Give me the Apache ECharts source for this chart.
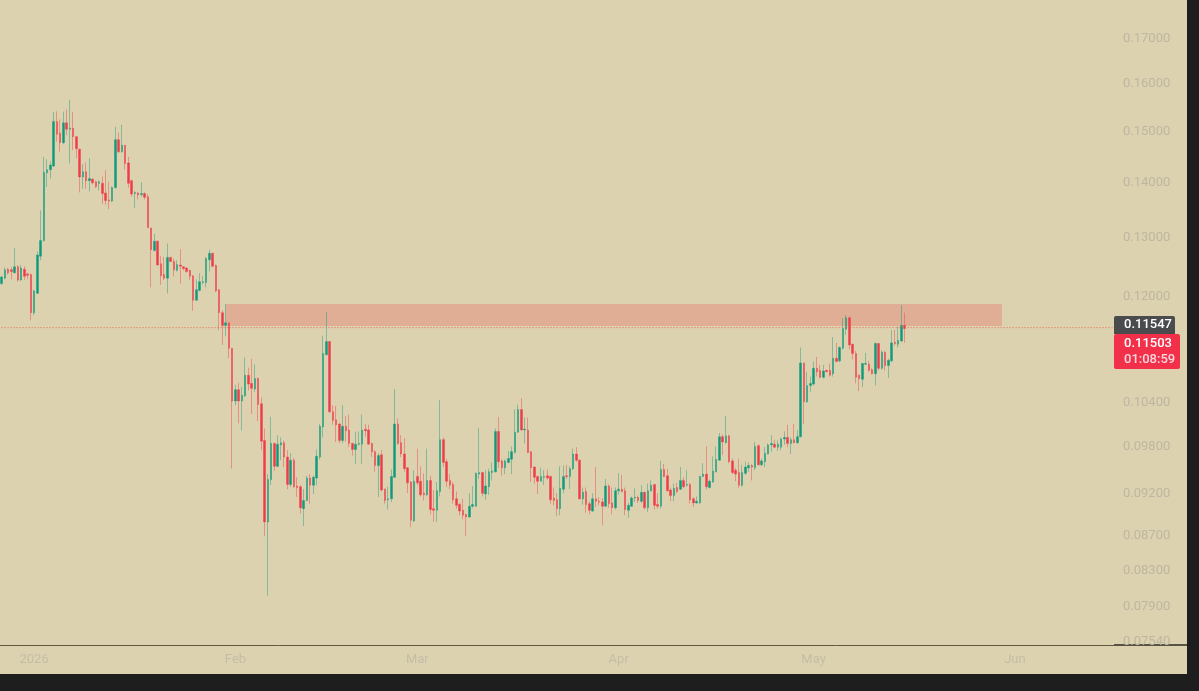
<!DOCTYPE html>
<html>
<head>
<meta charset="utf-8">
<title>Chart</title>
<script src="https://cdn.jsdelivr.net/npm/echarts@6/dist/echarts.min.js"></script>
<style>
    html, body { margin: 0; height: 100%; background: #1e1e1e; overflow: hidden; }
    /* the top of the price scale runs past the window, as in the source: 0.18000 is cut */
    #chart { position: absolute; left: 0; top: -10px; width: 1187px; height: 684px; background: #ddd2b0; }
</style>
</head>
<body>
<div id="chart"></div>
<script>
// 12h candles, one value per bar
const opens = [
    .1222,.1231,.1246,.1245,.1240,.1250,.1228,.1246,.1238,.1237,
    .1175,.1206,.1268,.1295,.1419,.1425,.1432,.1521,.1497,.1478,
    .1518,.1505,.1507,.1490,.1465,.1411,.1421,.1404,.1407,.1402,
    .1399,.1399,.1381,.1368,.1366,.1391,.1484,.1460,.1473,.1438,
    .1404,.1380,.1381,.1378,.1380,.1374,.1317,.1278,.1294,.1255,
    .1237,.1231,.1266,.1259,.1244,.1253,.1250,.1248,.1244,.1235,
    .1195,.1211,.1224,.1224,.1262,.1273,.1252,.1212,.1175,.1155,
    .1159,.1120,.1043,.1059,.1043,.1050,.1080,.1068,.1060,.1075,
    .1039,.0989,.0886,.0938,.0985,.0955,.0983,.0986,.0967,.0932,
    .0963,.0930,.0929,.0902,.0912,.0940,.0931,.0940,.0967,.1007,
    .1110,.1130,.1028,.1017,.1011,.0989,.1008,.1003,.0985,.0977,
    .0984,.0984,.1004,.1003,.0985,.0974,.0956,.0970,.0926,.0913,
    .0914,.0941,.1011,.0986,.0971,.0953,.0935,.0887,.0942,.0936,
    .0921,.0919,.0937,.0902,.0900,.0923,.0990,.0961,.0937,.0932,
    .0914,.0907,.0900,.0895,.0892,.0905,.0905,.0945,.0947,.0920,
    .0929,.0947,.0948,.1001,.0962,.0953,.0960,.0964,.0973,.1000,
    .1031,.1003,.1003,.0974,.0954,.0942,.0936,.0941,.0943,.0942,
    .0915,.0913,.0902,.0926,.0943,.0942,.0952,.0971,.0963,.0914,
    .0923,.0908,.0899,.0914,.0911,.0910,.0905,.0930,.0909,.0903,
    .0924,.0926,.0924,.0900,.0905,.0915,.0916,.0911,.0922,.0903,
    .0924,.0932,.0907,.0905,.0951,.0943,.0925,.0918,.0928,.0926,
    .0937,.0931,.0932,.0914,.0909,.0909,.0942,.0945,.0928,.0935,
    .0948,.0963,.0994,.0986,.0995,.0962,.0950,.0947,.0931,.0946,
    .0953,.0956,.0953,.0982,.0957,.0961,.0971,.0983,.0984,.0980,
    .0980,.0991,.0993,.0985,.0990,.0986,.0994,.1098,.1042,.1065,
    .1067,.1090,.1087,.1077,.1087,.1087,.1082,.1105,.1101,.1120,
    .1149,.1167,.1126,.1112,.1080,.1074,.1096,.1096,.1088,.1082,
    .1127,.1090,.1114,.1094,.1101,.1129,.1126,.1131,.1155
];
const closes = [
    .1233,.1245,.1240,.1242,.1250,.1228,.1248,.1234,.1236,.1175,
    .1210,.1270,.1295,.1420,.1425,.1434,.1521,.1495,.1478,.1518,
    .1505,.1507,.1490,.1466,.1411,.1421,.1404,.1408,.1400,.1393,
    .1402,.1380,.1367,.1366,.1391,.1484,.1460,.1473,.1437,.1399,
    .1379,.1382,.1377,.1380,.1373,.1318,.1279,.1294,.1253,.1235,
    .1231,.1266,.1259,.1245,.1254,.1251,.1247,.1242,.1234,.1195,
    .1212,.1225,.1225,.1264,.1273,.1251,.1210,.1175,.1155,.1159,
    .1120,.1043,.1059,.1043,.1051,.1080,.1067,.1061,.1075,.1038,
    .0988,.0886,.0938,.0985,.0955,.0984,.0986,.0967,.0932,.0963,
    .0929,.0928,.0903,.0912,.0940,.0931,.0941,.0968,.1008,.1112,
    .1130,.1028,.1016,.1010,.0989,.1008,.1002,.0985,.0977,.0984,
    .0985,.1003,.1002,.0984,.0974,.0956,.0969,.0925,.0912,.0914,
    .0942,.1011,.0985,.0971,.0952,.0934,.0888,.0936,.0934,.0919,
    .0919,.0937,.0901,.0900,.0924,.0990,.0960,.0936,.0931,.0913,
    .0906,.0899,.0894,.0892,.0905,.0907,.0946,.0947,.0921,.0930,
    .0948,.0949,.1001,.0961,.0953,.0962,.0965,.0974,.1000,.1031,
    .1003,.1004,.0973,.0953,.0941,.0936,.0942,.0942,.0940,.0913,
    .0912,.0902,.0927,.0942,.0942,.0952,.0971,.0963,.0914,.0922,
    .0907,.0900,.0914,.0911,.0910,.0905,.0930,.0908,.0903,.0924,
    .0926,.0923,.0901,.0906,.0915,.0916,.0912,.0922,.0903,.0924,
    .0931,.0906,.0905,.0951,.0942,.0924,.0918,.0927,.0923,.0937,
    .0929,.0932,.0913,.0909,.0911,.0942,.0945,.0929,.0936,.0949,
    .0964,.0994,.0987,.0995,.0961,.0947,.0945,.0931,.0947,.0954,
    .0956,.0954,.0981,.0957,.0962,.0972,.0983,.0985,.0980,.0984,
    .0991,.0993,.0985,.0990,.0986,.0994,.1098,.1042,.1065,.1068,
    .1090,.1085,.1077,.1086,.1085,.1080,.1105,.1100,.1121,.1150,
    .1167,.1125,.1112,.1077,.1075,.1097,.1097,.1087,.1082,.1127,
    .1090,.1114,.1094,.1102,.1128,.1127,.1132,.1155,.11503
];
const lows = [
    .1220,.1229,.1237,.1229,.1239,.1225,.1226,.1228,.1229,.1163,
    .1171,.1205,.1261,.1293,.1392,.1408,.1430,.1480,.1460,.1475,
    .1493,.1437,.1463,.1447,.1382,.1389,.1389,.1384,.1397,.1390,
    .1386,.1361,.1359,.1351,.1364,.1389,.1457,.1458,.1425,.1391,
    .1374,.1353,.1369,.1374,.1369,.1317,.1216,.1276,.1252,.1220,
    .1228,.1206,.1258,.1234,.1242,.1222,.1244,.1240,.1228,.1178,
    .1194,.1209,.1221,.1216,.1242,.1249,.1208,.1148,.1125,.1138,
    .1105,.0952,.1037,.1012,.1002,.1049,.1058,.1025,.1056,.1015,
    .0976,.0869,.0802,.0931,.0949,.0954,.0963,.0954,.0926,.0929,
    .0928,.0916,.0896,.0881,.0911,.0908,.0920,.0931,.0964,.0993,
    .1109,.1026,.1010,.0987,.0985,.0985,.0987,.0980,.0969,.0958,
    .0982,.0958,.0994,.0983,.0967,.0948,.0916,.0923,.0908,.0901,
    .0910,.0940,.0983,.0967,.0948,.0921,.0880,.0886,.0931,.0917,
    .0912,.0917,.0895,.0886,.0886,.0917,.0954,.0929,.0926,.0908,
    .0902,.0894,.0889,.0869,.0891,.0903,.0904,.0939,.0917,.0913,
    .0919,.0937,.0947,.0953,.0943,.0945,.0959,.0945,.0972,.0999,
    .1002,.0985,.0972,.0935,.0933,.0920,.0936,.0931,.0938,.0908,
    .0906,.0893,.0894,.0921,.0939,.0926,.0950,.0961,.0913,.0907,
    .0897,.0895,.0898,.0904,.0906,.0882,.0904,.0903,.0895,.0901,
    .0919,.0922,.0894,.0891,.0904,.0910,.0909,.0909,.0901,.0898,
    .0923,.0901,.0902,.0902,.0941,.0923,.0911,.0911,.0921,.0925,
    .0927,.0929,.0908,.0904,.0908,.0908,.0941,.0926,.0927,.0934,
    .0947,.0962,.0970,.0985,.0959,.0945,.0936,.0927,.0929,.0944,
    .0948,.0937,.0950,.0956,.0955,.0954,.0971,.0974,.0979,.0975,
    .0976,.0983,.0980,.0971,.0985,.0984,.0993,.1011,.1040,.1056,
    .1065,.1078,.1075,.1075,.1085,.1078,.1078,.1100,.1099,.1118,
    .1140,.1118,.1103,.1068,.1057,.1063,.1095,.1085,.1081,.1065,
    .1087,.1088,.1087,.1076,.1099,.1124,.1121,.1129,.1128
];
const highs = [
    .1235,.1249,.1248,.1249,.1282,.1253,.1253,.1251,.1240,.1239,
    .1212,.1276,.1349,.1450,.1445,.1441,.1541,.1542,.1525,.1541,
    .1546,.1566,.1541,.1491,.1466,.1436,.1439,.1447,.1408,.1404,
    .1405,.1412,.1424,.1402,.1393,.1510,.1498,.1514,.1473,.1450,
    .1406,.1384,.1383,.1401,.1382,.1379,.1318,.1307,.1295,.1268,
    .1267,.1290,.1267,.1264,.1261,.1280,.1251,.1249,.1245,.1236,
    .1229,.1239,.1234,.1267,.1279,.1274,.1254,.1213,.1179,.1189,
    .1159,.1120,.1066,.1069,.1063,.1106,.1091,.1104,.1096,.1077,
    .1048,.1005,.0945,.1021,.0986,.0996,.0993,.0989,.0976,.0972,
    .0966,.0941,.0931,.0926,.0943,.0945,.0943,.0977,.1011,.1139,
    .1176,.1131,.1037,.1036,.1013,.1037,.1022,.1024,.0986,.1001,
    .1001,.1024,.1011,.1010,.0986,.0976,.0972,.0976,.0927,.0929,
    .0951,.1060,.1019,.0996,.0992,.0954,.0936,.0950,.0978,.0955,
    .0946,.0978,.0943,.0925,.0935,.1044,.0993,.0965,.0945,.0935,
    .0923,.0909,.0914,.0896,.0921,.0930,.0947,.1006,.0948,.0950,
    .0952,.0960,.1005,.1021,.0964,.0964,.0975,.0981,.1031,.1038,
    .1047,.1020,.1020,.0975,.0955,.0943,.0953,.0950,.0951,.0943,
    .0928,.0921,.0955,.0956,.0957,.0955,.0978,.0980,.0964,.0928,
    .0928,.0911,.0921,.0954,.0916,.0915,.0939,.0932,.0928,.0928,
    .0946,.0944,.0928,.0909,.0917,.0927,.0918,.0931,.0923,.0933,
    .0937,.0932,.0921,.0962,.0958,.0952,.0928,.0933,.0934,.0954,
    .0941,.0950,.0934,.0916,.0917,.0943,.0959,.0981,.0938,.0968,
    .0981,.0999,.0997,.1022,.0997,.0965,.0953,.0965,.0957,.0961,
    .0960,.0958,.0987,.0984,.0965,.0980,.0985,.0996,.0990,.0989,
    .0993,.1001,.1010,.0993,.1011,.1003,.1121,.1098,.1085,.1078,
    .1100,.1107,.1095,.1095,.1088,.1097,.1137,.1128,.1123,.1166,
    .1171,.1169,.1127,.1116,.1081,.1098,.1113,.1101,.1090,.1129,
    .1128,.1117,.1116,.1104,.1148,.1148,.1153,.1187,.1175
];

// price scale ticks are the irregular ones the log scale of the source shows
const priceTicks = [0.18, 0.17, 0.16, 0.15, 0.14, 0.13, 0.12, 0.104, 0.098, 0.092, 0.087, 0.083, 0.079, 0.0754];
const monthLabels = {
    '2026-01-01 00': '2026',
    '2026-02-01 00': 'Feb',
    '2026-03-01 00': 'Mar',
    '2026-04-01 00': 'Apr',
    '2026-05-01 00': 'May',
    '2026-06-01 00': 'Jun',
};

const START_TIME = Date.UTC(2025, 11, 27);
const HALF_DAY = 12 * 3600 * 1000;
const SLOT_COUNT = 343; // bars plus the empty space on the right

const ZONE_TOP = 0.11887;
const ZONE_BOTTOM = 0.1154;
const PRICE_LINE = 0.11515;

const categories = [];
for (let i = 0; i < SLOT_COUNT; i++) {
    categories.push(new Date(START_TIME + i * HALF_DAY).toISOString().slice(0, 13).replace('T', ' '));
}

// ECharts candlestick order is open, close, low, high
const candles = opens.map((open, i) => [open, closes[i], lows[i], highs[i]]);

const chart = echarts.init(document.getElementById('chart'));

// graphic coords are in the chart's own box, which starts 10px above the window
const PAGE_Y = 10;

chart.setOption({
    animation: false,
    backgroundColor: '#ddd2b0',
    textStyle: { fontFamily: 'Roboto' },
    grid: { left: 0, right: 73, top: 0, bottom: 29 },
    xAxis: {
        type: 'category',
        data: categories,
        boundaryGap: true,
        axisLine: { lineStyle: { color: '#5f5a40', width: 1 } },
        axisTick: { show: false },
        splitLine: { show: false },
        axisLabel: {
            color: '#c4bda6',
            fontSize: 13,
            margin: 8,
            interval: (_i, value) => value in monthLabels,
            formatter: (value) => monthLabels[value] || '',
        },
    },
    yAxis: {
        type: 'log',
        position: 'right',
        min: 0.07504,
        max: 0.1816,
        axisLine: { show: false },
        axisTick: { show: false },
        splitLine: { show: false },
        minorSplitLine: { show: false },
        axisLabel: {
            color: '#bdb6a0',
            fontSize: 13,
            margin: 9,
            customValues: priceTicks,
            formatter: (value) => Number(value).toFixed(5),
        },
    },
    series: [
        {
            type: 'candlestick',
            data: candles,
            barWidth: 2,
            itemStyle: {
                color: '#0f9a7c',
                color0: '#ef3b48',
                borderColor: 'rgba(15,154,124,0.55)',
                borderColor0: 'rgba(239,59,72,0.55)',
                borderWidth: 0.8,
            },
            markArea: {
                silent: true,
                itemStyle: { color: 'rgba(231,120,111,0.4)' },
                data: [[
                    { xAxis: categories[69], yAxis: ZONE_TOP },
                    { xAxis: categories[308], yAxis: ZONE_BOTTOM },
                ]],
            },
        },
        {
            // markLine ignored its colour here, a flat line series does the same job
            type: 'line',
            data: categories.map(() => PRICE_LINE),
            silent: true,
            symbol: 'none',
            lineStyle: { color: '#f0604a', type: [1, 2], width: 1 },
        },
    ],
    graphic: [
        // dark end of the bottom line, under the price scale
        { type: 'line', shape: { x1: 1114, y1: 645 + PAGE_Y, x2: 1187, y2: 645 + PAGE_Y }, style: { stroke: '#2b2a20', lineWidth: 1.5 } },
        {
            type: 'rect',
            shape: { x: 1114, y: 316 + PAGE_Y, width: 61, height: 18, r: [2, 2, 0, 0] },
            style: { fill: '#4a4b4d' },
        },
        {
            type: 'text',
            x: 1124, y: 325 + PAGE_Y,
            style: { text: '0.11547', fill: '#ffffff', font: '500 13px Roboto', verticalAlign: 'middle' },
        },
        {
            type: 'rect',
            shape: { x: 1114, y: 334 + PAGE_Y, width: 66, height: 35, r: 2 },
            style: { fill: '#f2304a' },
        },
        {
            type: 'text',
            x: 1124, y: 344 + PAGE_Y,
            style: { text: '0.11503', fill: '#ffffff', font: '500 13px Roboto', verticalAlign: 'middle' },
        },
        {
            type: 'text',
            x: 1124, y: 360 + PAGE_Y,
            style: { text: '01:08:59', fill: 'rgba(255,255,255,0.8)', font: '500 13px Roboto', verticalAlign: 'middle' },
        },
    ],
});
</script>
</body>
</html>
